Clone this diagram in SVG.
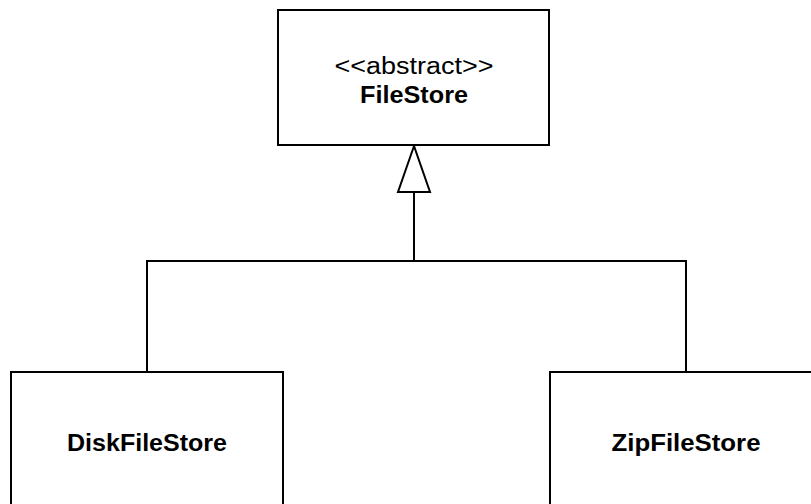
<svg xmlns="http://www.w3.org/2000/svg" width="811" height="504" viewBox="0 0 811 504">
<style>
.box{fill:#fff;stroke:#000;stroke-width:2}
.ln{fill:none;stroke:#000;stroke-width:2}
.t{font-family:"Liberation Sans",Arial,sans-serif;font-size:23px;fill:#000;text-anchor:middle}
.b{font-weight:bold}
</style>
<rect width="811" height="504" fill="#fff"/>
<g id="connectors">
<polyline class="ln" points="147,372 147,261 686,261 686,372"/>
<line class="ln" x1="414" y1="261" x2="414" y2="192"/>
<polygon class="ln" points="414,146 398,192 430,192"/>
</g>
<g id="FileStore">
<rect class="box" x="278" y="10" width="271" height="135"/>
<text class="t" x="414" y="74" textLength="159" lengthAdjust="spacingAndGlyphs">&lt;&lt;abstract&gt;&gt;</text>
<text class="t b" x="414" y="103" textLength="108" lengthAdjust="spacingAndGlyphs">FileStore</text>
</g>
<g id="DiskFileStore">
<rect class="box" x="11" y="372" width="272" height="140"/>
<text class="t b" x="147" y="451" textLength="160" lengthAdjust="spacingAndGlyphs">DiskFileStore</text>
</g>
<g id="ZipFileStore">
<rect class="box" x="550" y="372" width="272" height="140"/>
<text class="t b" x="686" y="451" textLength="149" lengthAdjust="spacingAndGlyphs">ZipFileStore</text>
</g>
</svg>
